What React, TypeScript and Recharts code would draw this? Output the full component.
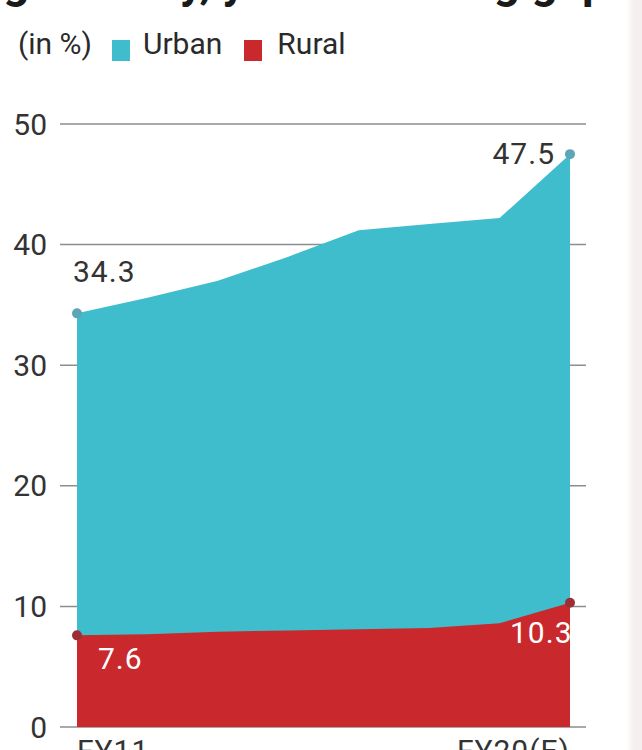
import React from "react";
import { AreaChart, Area, XAxis, YAxis, CartesianGrid, LabelList } from "recharts";

// Fiscal-year points along the x axis (only the first and last are labelled)
const years = ["FY11", "FY12", "FY13", "FY14", "FY15", "FY16", "FY17", "FY20(E)"];
// Share of population, in %
const urban = [34.3, 35.6, 37.0, 39.0, 41.2, 41.7, 42.2, 47.5];
const rural = [7.6, 7.7, 7.9, 8.0, 8.1, 8.2, 8.6, 10.3];
const yTicks = [0, 10, 20, 30, 40, 50];

const seriesNames = ["Urban", "Rural"];
const URBAN = "#40bdcc";
const RURAL = "#c9292c";
const FONT = "Roboto, 'Noto Sans', sans-serif";

const data = years.map((year, i) => ({ year, urban: urban[i], rural: rural[i] }));
const last = years.length - 1;

const XTick = (props: any) => {
  const { x, y, payload } = props;
  if (payload.value !== years[0] && payload.value !== years[last]) return <g />;
  const anchor = payload.value === years[0] ? "start" : "end";
  return (
    <text x={x} y={y} dy={26} textAnchor={anchor} fill="#333" fontSize={30} fontFamily={FONT} letterSpacing={1}>
      {payload.value}
    </text>
  );
};

const endDot = (color: string) => (props: any) => {
  const { cx, cy, index } = props;
  if (index !== 0 && index !== last) return <g key={`d${index}`} />;
  return <circle key={`d${index}`} cx={cx} cy={cy} r={5} fill={color} />;
};

const urbanLabel = (props: any) => {
  const { x, y, index, value } = props;
  if (index === 0)
    return (
      <text x={x - 4} y={y - 31} textAnchor="start" fill="#333" fontSize={30} fontFamily={FONT} letterSpacing={1}>
        {value}
      </text>
    );
  if (index === last)
    return (
      <text x={x - 15} y={y + 10} textAnchor="end" fill="#333" fontSize={30} fontFamily={FONT} letterSpacing={1}>
        {value}
      </text>
    );
  return null;
};

const ruralLabel = (props: any) => {
  const { x, y, index, value } = props;
  if (index === 0)
    return (
      <text x={x + 21} y={y + 34} textAnchor="start" fill="#fff" fontSize={30} fontFamily={FONT} letterSpacing={1}>
        {value}
      </text>
    );
  if (index === last)
    return (
      <text x={x - 60} y={y + 40} textAnchor="start" fill="#fff" fontSize={30} fontFamily={FONT} letterSpacing={1}>
        {value}
      </text>
    );
  return null;
};

export default function App() {
  return (
    <div
      style={{
        position: "fixed",
        top: 0,
        left: 0,
        width: 642,
        height: 750,
        overflow: "hidden",
        background: "#fff",
        fontFamily: FONT,
      }}
    >
      {/* headline running above the panel */}
      <svg width={642} height={14} style={{ position: "absolute", top: 0, left: 0, display: "block" }}>
        <text x={608} y={-2} textAnchor="end" fontSize={46} fontWeight={700} fill="#1a1a1a" fontFamily={FONT}>
          Internet penetration rising steadily, yet a widening gap
        </text>
      </svg>

      {/* legend */}
      <div
        style={{
          position: "absolute",
          top: 26,
          left: 18,
          display: "flex",
          alignItems: "center",
          fontSize: 30,
          color: "#2a2a2a",
          lineHeight: "36px",
          whiteSpace: "nowrap",
        }}
      >
        <span>(in %)</span>
        <span style={{ display: "inline-block", width: 18, height: 21, background: URBAN, marginLeft: 20, marginRight: 13, position: "relative", top: 6 }} />
        <span>{seriesNames[0]}</span>
        <span style={{ display: "inline-block", width: 18, height: 21, background: RURAL, marginLeft: 22, marginRight: 15, position: "relative", top: 6 }} />
        <span>{seriesNames[1]}</span>
      </div>

      <div style={{ position: "absolute", top: 0, left: 0 }}>
        <AreaChart width={642} height={770} data={data} margin={{ top: 124, right: 56, left: 0, bottom: 0 }}>
          <CartesianGrid vertical={false} stroke="#8d8d8d" strokeWidth={1.5} />
          <XAxis
            dataKey="year"
            axisLine={false}
            tickLine={false}
            interval={0}
            height={43}
            padding={{ left: 17, right: 16 }}
            tick={<XTick />}
          />
          <YAxis
            domain={[0, 50]}
            ticks={yTicks}
            axisLine={false}
            tickLine={false}
            tickMargin={7}
            width={60}
            tick={{ fill: "#333", fontSize: 30, fontFamily: FONT }}
          />
          <Area
            type="linear"
            dataKey="urban"
            name={seriesNames[0]}
            stroke="none"
            fill={URBAN}
            fillOpacity={1}
            dot={endDot("#5ea6b6")}
            activeDot={false}
            isAnimationActive={false}
          >
            <LabelList dataKey="urban" content={urbanLabel} />
          </Area>
          <Area
            type="linear"
            dataKey="rural"
            name={seriesNames[1]}
            stroke="none"
            fill={RURAL}
            fillOpacity={1}
            dot={endDot("#9c2f36")}
            activeDot={false}
            isAnimationActive={false}
          >
            <LabelList dataKey="rural" content={ruralLabel} />
          </Area>
        </AreaChart>
      </div>

      {/* faint shaded edge on the right */}
      <div
        style={{
          position: "absolute",
          top: 0,
          left: 626,
          width: 16,
          height: 750,
          background: "linear-gradient(to right, rgba(246,240,240,0), #f6efef 50%)",
        }}
      />
    </div>
  );
}
